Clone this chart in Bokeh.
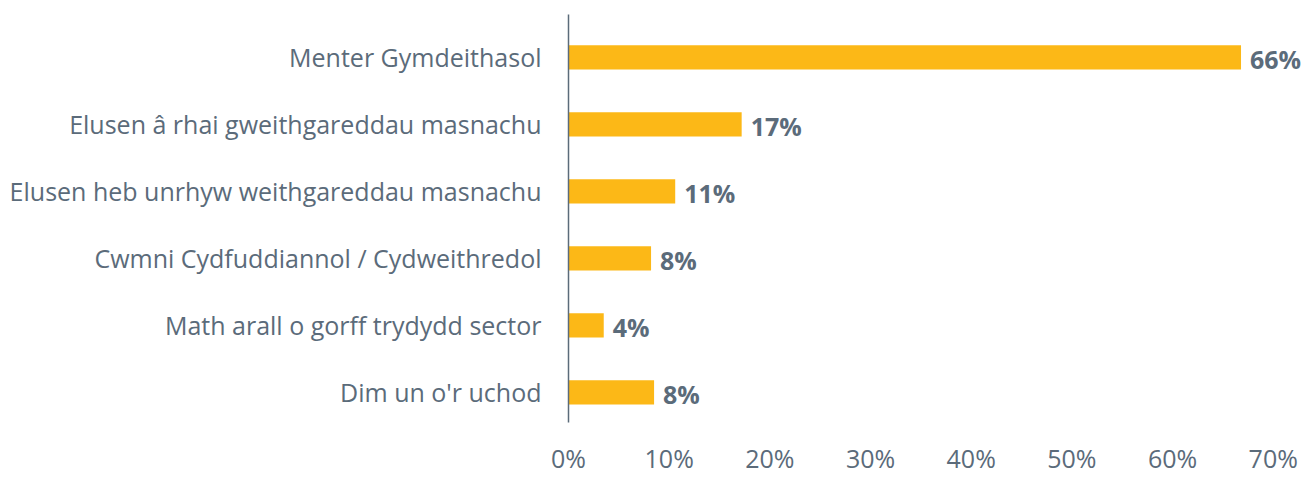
from bokeh.plotting import figure
from bokeh.models import Range1d, FixedTicker, ColumnDataSource
from bokeh.core.properties import value
from bokeh.embed import file_html
from bokeh.resources import INLINE

categories = [
    "Menter Gymdeithasol",
    "Elusen â rhai gweithgareddau masnachu",
    "Elusen heb unrhyw weithgareddau masnachu",
    "Cwmni Cydfuddiannol / Cydweithredol",
    "Math arall o gorff trydydd sector",
    "Dim un o'r uchod",
]
values = [66.8, 17.2, 10.6, 8.2, 3.5, 8.5]
value_labels = ["66%", "17%", "11%", "8%", "4%", "8%"]
x_ticks = [0, 10, 20, 30, 40, 50, 60, 70]

BAR = "#FCB817"
TEXT = "#5B6B7A"
FONT = "Open Sans"

idx = list(range(len(categories)))
src = ColumnDataSource(dict(y=idx, v=values, lab=value_labels))

p = figure(width=1313, height=477, output_backend="svg", toolbar_location=None,
           x_range=Range1d(0, 73.8), y_range=Range1d(len(categories) - 1 + 0.45, -0.64),
           min_border_left=568, min_border_right=2, min_border_top=14, min_border_bottom=49)
p.outline_line_color = None
p.grid.visible = False

p.hbar(y="y", right="v", left=0, height=0.36, source=src, color=BAR, line_color=None)
p.text(x="v", y="y", text="lab", source=src, x_offset=9, y_offset=2,
       text_font=value(FONT), text_font_style="bold", text_font_size="25px",
       text_color=TEXT, text_baseline="middle", text_align="left")

xa = p.xaxis[0]
xa.ticker = FixedTicker(ticks=x_ticks)
xa.major_label_overrides = {t: f"{t}%" for t in x_ticks}
xa.axis_line_color = None
xa.major_tick_line_color = None
xa.minor_tick_line_color = None
xa.major_tick_in = 0
xa.major_tick_out = 0
xa.major_label_standoff = 18
xa.major_label_text_font = FONT
xa.major_label_text_font_size = "25px"
xa.major_label_text_color = TEXT

ya = p.yaxis[0]
ya.ticker = FixedTicker(ticks=idx)
ya.major_label_overrides = {i: c for i, c in zip(idx, categories)}
ya.axis_line_color = TEXT
ya.axis_line_width = 1.5
ya.major_tick_line_color = None
ya.minor_tick_line_color = None
ya.major_tick_in = 0
ya.major_tick_out = 0
ya.major_label_standoff = 27
ya.major_label_text_font = FONT
ya.major_label_text_font_size = "25px"
ya.major_label_text_color = TEXT

open("out.html", "w").write(file_html(p, INLINE))
